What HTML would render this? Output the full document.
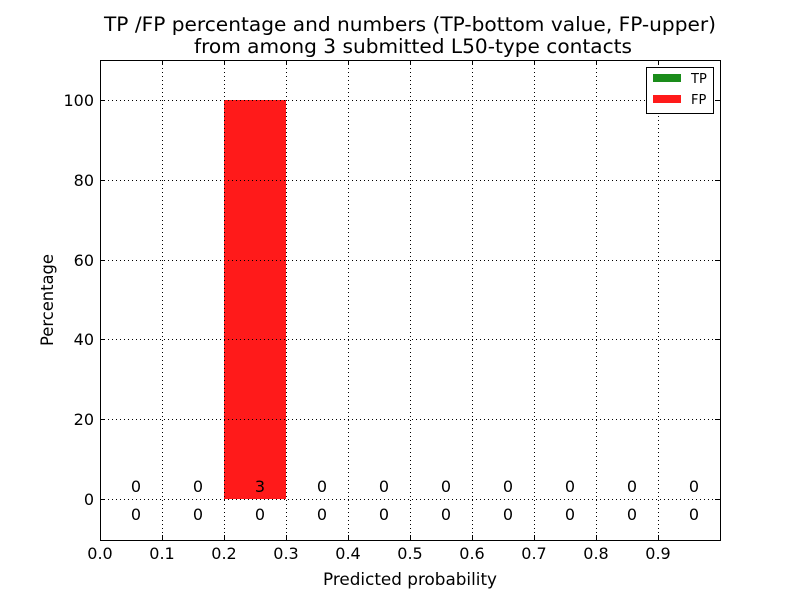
<!DOCTYPE html>
<html><head><meta charset="utf-8"><style>
html,body{margin:0;padding:0;background:#fff;}
svg text{font-family:"DejaVu Sans","Liberation Sans",sans-serif;}
</style></head><body>
<svg width="800" height="600" viewBox="0 0 800 600" xmlns="http://www.w3.org/2000/svg">
<rect width="800" height="600" fill="#fff"/>
<text x="410" y="31" font-size="19.5" text-anchor="middle" textLength="612" lengthAdjust="spacingAndGlyphs">TP /FP percentage and numbers (TP-bottom value, FP-upper)</text>
<text x="413" y="53" font-size="19.5" text-anchor="middle" textLength="438" lengthAdjust="spacingAndGlyphs">from among 3 submitted L50-type contacts</text>
<rect x="224" y="100" width="62" height="399" fill="#ff1a1a"/>
<g stroke="#000" stroke-width="1" stroke-dasharray="1,3" fill="none">
<path d="M162.5 60V540M224.5 60V540M286.5 60V540M348.5 60V540M410.5 60V540M472.5 60V540M534.5 60V540M596.5 60V540M658.5 60V540"/>
<path d="M100 499.5H720M100 419.5H720M100 339.5H720M100 260.5H720M100 180.5H720M100 100.5H720"/>
</g>
<rect x="100.5" y="60.5" width="620" height="480" fill="none" stroke="#000"/>
<g stroke="#000">
<path d="M162.5 540v-5M224.5 540v-5M286.5 540v-5M348.5 540v-5M410.5 540v-5M472.5 540v-5M534.5 540v-5M596.5 540v-5M658.5 540v-5"/>
<path d="M162.5 60v5M224.5 60v5M286.5 60v5M348.5 60v5M410.5 60v5M472.5 60v5M534.5 60v5M596.5 60v5M658.5 60v5"/>
<path d="M100 499.5h5M100 419.5h5M100 339.5h5M100 260.5h5M100 180.5h5M100 100.5h5"/>
<path d="M720 499.5h-5M720 419.5h-5M720 339.5h-5M720 260.5h-5M720 180.5h-5M720 100.5h-5"/>
</g>
<g font-size="16" text-anchor="middle">
<text x="100" y="559">0.0</text><text x="162" y="559">0.1</text><text x="224" y="559">0.2</text><text x="286" y="559">0.3</text><text x="348" y="559">0.4</text><text x="410" y="559">0.5</text><text x="472" y="559">0.6</text><text x="534" y="559">0.7</text><text x="596" y="559">0.8</text><text x="658" y="559">0.9</text>
</g>
<g font-size="16" text-anchor="end">
<text x="94" y="505">0</text><text x="94" y="425">20</text><text x="94" y="345">40</text><text x="94" y="266">60</text><text x="94" y="186">80</text><text x="94" y="106">100</text>
</g>
<text x="410" y="585" font-size="16.5" text-anchor="middle" textLength="174" lengthAdjust="spacingAndGlyphs">Predicted probability</text>
<text transform="translate(53 300) rotate(-90)" font-size="16.5" text-anchor="middle" textLength="92" lengthAdjust="spacingAndGlyphs">Percentage</text>
<g font-size="16" text-anchor="middle">
<text x="136" y="492">0</text><text x="198" y="492">0</text><text x="260" y="492">3</text><text x="322" y="492">0</text><text x="384" y="492">0</text><text x="446" y="492">0</text><text x="508" y="492">0</text><text x="570" y="492">0</text><text x="632" y="492">0</text><text x="694" y="492">0</text>
<text x="136" y="520">0</text><text x="198" y="520">0</text><text x="260" y="520">0</text><text x="322" y="520">0</text><text x="384" y="520">0</text><text x="446" y="520">0</text><text x="508" y="520">0</text><text x="570" y="520">0</text><text x="632" y="520">0</text><text x="694" y="520">0</text>
</g>
<rect x="646.5" y="67.5" width="67" height="46" fill="#fff" stroke="#000"/>
<rect x="653" y="74" width="28" height="8" fill="#1a8c1a"/>
<rect x="653" y="95" width="28" height="8" fill="#ff1a1a"/>
<text x="691" y="83" font-size="13">TP</text>
<text x="691" y="104" font-size="13">FP</text>
</svg>
</body></html>
